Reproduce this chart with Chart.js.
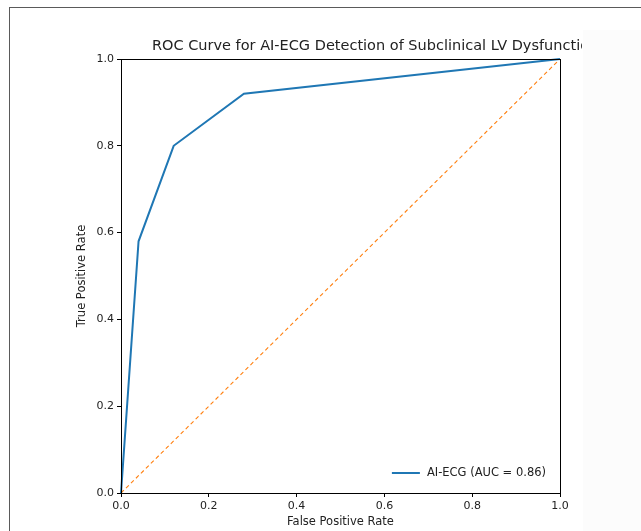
<!DOCTYPE html>
<html>
<head>
<meta charset="utf-8">
<script src="https://cdn.jsdelivr.net/npm/chart.js@4.4.1/dist/chart.umd.min.js"></script>
<style>
  html, body { margin: 0; padding: 0; background: #ffffff; }
  #wrap { position: relative; width: 641px; height: 531px; overflow: hidden; }
  #frame { position: absolute; left: 9px; top: 7px; width: 700px; height: 600px;
           border-left: 1.5px solid #5a5a5a; border-top: 1.5px solid #5a5a5a; }
  #fig { position: absolute; left: 583px; top: 30px; width: 100px; height: 600px; background: #fcfcfc; }
  canvas { position: absolute; left: 0; top: 0; }
</style>
</head>
<body>
<div id="wrap">
  <div id="frame"></div>
  <div id="fig"></div>
  <canvas id="c" width="641" height="531"></canvas>
</div>
<script>
// ---- data ----
const fpr = [0.0, 0.04, 0.12, 0.28, 1.0];
const tpr = [0.0, 0.58, 0.80, 0.92, 1.0];
const chanceX = [0.0, 1.0];
const chanceY = [0.0, 1.0];
const seriesLabel = "AI-ECG (AUC = 0.86)";
const chartTitle = "ROC Curve for AI-ECG Detection of Subclinical LV Dysfunction";
const xTitle = "False Positive Rate";
const yTitle = "True Positive Rate";
const tickStep = 0.2;

const FONT = "'DejaVu Sans', sans-serif";

const rocPoints = fpr.map((x, i) => ({ x: x, y: tpr[i] }));
const chancePoints = chanceX.map((x, i) => ({ x: x, y: chanceY[i] }));

const framePlugin = {
  id: 'framePlugin',
  afterDatasetsDraw(chart) {
    const { ctx, chartArea: a } = chart;
    ctx.save();
    ctx.strokeStyle = '#000';
    ctx.lineWidth = 1;
    ctx.strokeRect(Math.round(a.left) + 0.5, Math.round(a.top) + 0.5,
                   Math.round(a.right - a.left), Math.round(a.bottom - a.top));
    ctx.restore();
  }
};

const titlePlugin = {
  id: 'titlePlugin',
  afterDraw(chart) {
    const { ctx, chartArea: a } = chart;
    ctx.save();
    ctx.beginPath();
    ctx.rect(0, 0, a.right + 22, chart.height);
    ctx.clip();
    ctx.font = "14.5px " + FONT;
    ctx.fillStyle = '#222';
    ctx.textAlign = 'left';
    ctx.textBaseline = 'middle';
    ctx.fillText(chartTitle, a.left + 31, a.top - 13);
    ctx.restore();
  }
};

const legendPlugin = {
  id: 'legendPlugin',
  afterDraw(chart) {
    const { ctx, chartArea: a } = chart;
    const ds = chart.data.datasets[0];
    ctx.save();
    ctx.font = "11.5px " + FONT;
    const tw = ctx.measureText(ds.label).width;
    const textRight = a.right - 14;
    const textLeft = textRight - tw;
    const cy = a.bottom - 20;
    ctx.strokeStyle = ds.borderColor;
    ctx.lineWidth = 2;
    ctx.beginPath();
    ctx.moveTo(textLeft - 35, cy);
    ctx.lineTo(textLeft - 7, cy);
    ctx.stroke();
    ctx.fillStyle = '#222';
    ctx.textAlign = 'left';
    ctx.textBaseline = 'middle';
    ctx.fillText(ds.label, textLeft, cy);
    ctx.restore();
  }
};

new Chart(document.getElementById('c'), {
  type: 'scatter',
  data: {
    datasets: [
      {
        label: seriesLabel,
        data: rocPoints,
        showLine: true,
        borderColor: '#1f77b4',
        backgroundColor: '#1f77b4',
        borderWidth: 2,
        pointRadius: 0,
        tension: 0,
        order: 1
      },
      {
        label: 'chance',
        data: chancePoints,
        showLine: true,
        borderColor: '#ff7f0e',
        borderWidth: 1.1,
        borderDash: [4, 3],
        pointRadius: 0,
        tension: 0,
        order: 2
      }
    ]
  },
  options: {
    responsive: false,
    animation: false,
    clip: false,
    layout: { padding: { left: 71, right: 81, top: 59, bottom: 0 } },
    plugins: {
      legend: { display: false },
      title: { display: false },
      tooltip: { enabled: false }
    },
    scales: {
      x: {
        type: 'linear',
        min: 0, max: 1,
        afterFit(s) { s.height = 38; },
        border: { display: true, color: '#000', width: 1 },
        grid: { display: true, drawOnChartArea: false, drawTicks: true, tickLength: 4, color: '#000' },
        ticks: {
          stepSize: tickStep,
          padding: 3,
          color: '#222',
          font: { family: FONT, size: 11 },
          maxRotation: 0,
          autoSkip: false,
          callback: v => Number(v).toFixed(1)
        },
        title: {
          display: true,
          text: xTitle,
          color: '#222',
          font: { family: FONT, size: 11.5 },
          padding: { top: 0, bottom: 2 }
        }
      },
      y: {
        type: 'linear',
        min: 0, max: 1,
        afterFit(s) { s.width = 50; },
        border: { display: true, color: '#000', width: 1 },
        grid: { display: true, drawOnChartArea: false, drawTicks: true, tickLength: 4, color: '#000' },
        ticks: {
          stepSize: tickStep,
          padding: 3,
          color: '#222',
          font: { family: FONT, size: 11 },
          autoSkip: false,
          callback: v => Number(v).toFixed(1)
        },
        title: {
          display: true,
          text: yTitle,
          color: '#222',
          font: { family: FONT, size: 11.5 },
          padding: { top: 4, bottom: 4 }
        }
      }
    }
  },
  plugins: [framePlugin, titlePlugin, legendPlugin]
});
</script>
</body>
</html>
